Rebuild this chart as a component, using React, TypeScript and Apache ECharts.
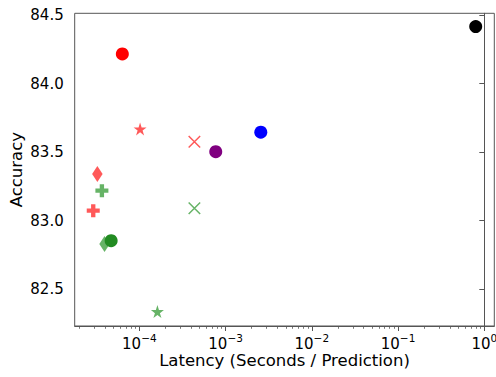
import React, { useEffect, useRef } from 'react';
import * as echarts from 'echarts';

// Data
const modelIds = ['m1', 'm2', 'm3', 'm4', 'm5', 'm6', 'm7', 'm8', 'm9', 'm10', 'm11', 'm12', 'm13'];
const latency = [0.795, 6.35e-5, 1.02e-4, 4.35e-4, 2.56e-3, 7.69e-4, 3.26e-5, 3.68e-5, 2.92e-5, 4.35e-4, 3.95e-5, 4.71e-5, 1.62e-4];
const accuracy = [84.415, 84.216, 83.669, 83.576, 83.645, 83.503, 83.341, 83.219, 83.073, 83.091, 82.83, 82.854, 82.337];
const xTickValues = [1e-4, 1e-3, 1e-2, 1e-1, 1];
const yTickValues = [82.5, 83.0, 83.5, 84.0, 84.5];
const xRange = [1.78e-5, 1.306];
const yRange = [82.232, 84.512];

// Styles (kept apart from the data)
const RED = 'rgba(255,0,0,0.65)';
const GREEN = 'rgba(0,128,0,0.6)';

const starPath = (() => {
  const pts: string[] = [];
  for (let i = 0; i < 10; i++) {
    const r = i % 2 === 0 ? 1 : 0.382;
    const a = (Math.PI / 5) * i - Math.PI / 2;
    pts.push(`${(r * Math.cos(a)).toFixed(4)},${(r * Math.sin(a)).toFixed(4)}`);
  }
  return 'path://M' + pts.join('L') + 'Z';
})();
const plusPath = 'path://M4,0H8V4H12V8H8V12H4V8H0V4H4Z';
const xPath = 'path://M0,0L12,12M12,0L0,12';

type MS = { symbol: string; size: number | number[]; color: string; stroke?: boolean };
const markerStyles: MS[] = [
  { symbol: 'circle', size: 13, color: '#000000' },
  { symbol: 'circle', size: 13, color: '#ff0000' },
  { symbol: starPath, size: 13, color: RED },
  { symbol: xPath, size: 11.5, color: RED, stroke: true },
  { symbol: 'circle', size: 13, color: '#0000ff' },
  { symbol: 'circle', size: 13, color: '#800080' },
  { symbol: 'diamond', size: [10.5, 16], color: RED },
  { symbol: plusPath, size: 13, color: GREEN },
  { symbol: plusPath, size: 13, color: RED },
  { symbol: xPath, size: 11.5, color: GREEN, stroke: true },
  { symbol: 'diamond', size: [10.5, 16], color: GREEN },
  { symbol: 'circle', size: 13, color: '#228b22' },
  { symbol: starPath, size: 13, color: GREEN },
];

// The x axis is a log10 scale: positions are taken as log10 of the latency.
const lg = (v: number) => Math.log10(v);

const minorTickValues = (() => {
  const out: number[] = [];
  for (let d = -5; d <= 0; d++) {
    for (let k = 2; k <= 9; k++) {
      const v = k * Math.pow(10, d);
      if (v >= xRange[0] && v <= xRange[1]) out.push(lg(v));
    }
  }
  return out;
})();

const FONT = 'DejaVu Sans';
const AXIS_COLOR = '#555';

export default function App() {
  const ref = useRef<HTMLDivElement>(null);
  useEffect(() => {
    if (!ref.current) return;
    const chart = echarts.init(ref.current, undefined, { renderer: 'svg' });
    const series = modelIds.map((id, i) => {
      const st = markerStyles[i];
      return {
        type: 'scatter',
        name: id,
        xAxisIndex: 0,
        yAxisIndex: 0,
        symbol: st.symbol,
        symbolSize: st.size,
        itemStyle: st.stroke
          ? { color: 'rgba(0,0,0,0)', borderColor: st.color, borderWidth: 1.5, opacity: 1 }
          : { color: st.color, opacity: 1 },
        emphasis: { disabled: true },
        data: [[lg(latency[i]), accuracy[i]]],
        z: 3 + i,
      };
    });
    const majorX = xTickValues.map(lg);
    chart.setOption({
      animation: false,
      grid: {
        left: 74.7,
        top: 13.3,
        right: 1.7,
        bottom: 51,
        containLabel: false,
        outerBoundsMode: 'none',
        show: true,
        borderColor: AXIS_COLOR,
        borderWidth: 1,
        backgroundColor: 'transparent',
      },
      xAxis: [
        {
          type: 'value',
          position: 'bottom',
          min: lg(xRange[0]),
          max: lg(xRange[1]),
          name: 'Latency (Seconds / Prediction)',
          nameLocation: 'middle',
          nameGap: 26,
          nameMoveOverlap: false,
          nameTextStyle: { fontFamily: FONT, fontSize: 16.5, color: '#000' },
          axisLine: { show: true, lineStyle: { color: AXIS_COLOR, width: 1 } },
          axisTick: { show: true, length: 5, lineStyle: { color: AXIS_COLOR, width: 1 }, customValues: majorX },
          axisLabel: {
            customValues: majorX,
            margin: 6,
            fontFamily: FONT,
            color: '#000',
            hideOverlap: false,
            formatter: (v: number) => {
              const e = Math.round(v);
              return `{b|10}{s|${e < 0 ? '\u2212' : ''}${Math.abs(e)}}`;
            },
            rich: {
              b: { fontFamily: FONT, fontSize: 15, color: '#000' },
              s: { fontFamily: FONT, fontSize: 10.5, color: '#000', padding: [0, 0, 12, 0] },
            },
          },
          splitLine: { show: false },
        },
        {
          type: 'value',
          position: 'bottom',
          min: lg(xRange[0]),
          max: lg(xRange[1]),
          axisLine: { show: false },
          axisTick: { show: true, length: 2.8, lineStyle: { color: AXIS_COLOR, width: 0.8 }, customValues: minorTickValues },
          axisLabel: { show: false },
          splitLine: { show: false },
        },
      ],
      yAxis: [
        {
          type: 'value',
          min: yRange[0],
          max: yRange[1],
          name: 'Accuracy',
          nameLocation: 'middle',
          nameGap: 50,
          nameMoveOverlap: false,
          nameRotate: 90,
          nameTextStyle: { fontFamily: FONT, fontSize: 16.5, color: '#000' },
          axisLine: { show: true, lineStyle: { color: AXIS_COLOR, width: 1 } },
          axisTick: { show: true, length: 5, lineStyle: { color: AXIS_COLOR, width: 1 }, customValues: yTickValues },
          axisLabel: {
            customValues: yTickValues,
            margin: 11,
            fontFamily: FONT,
            fontSize: 15,
            color: '#000',
            formatter: (v: number) => v.toFixed(1),
          },
          splitLine: { show: false },
        },
      ],
      series,
    });
    return () => chart.dispose();
  }, []);
  return <div ref={ref} style={{ width: 496, height: 377, position: 'absolute', left: 0, top: 0 }} />;
}
